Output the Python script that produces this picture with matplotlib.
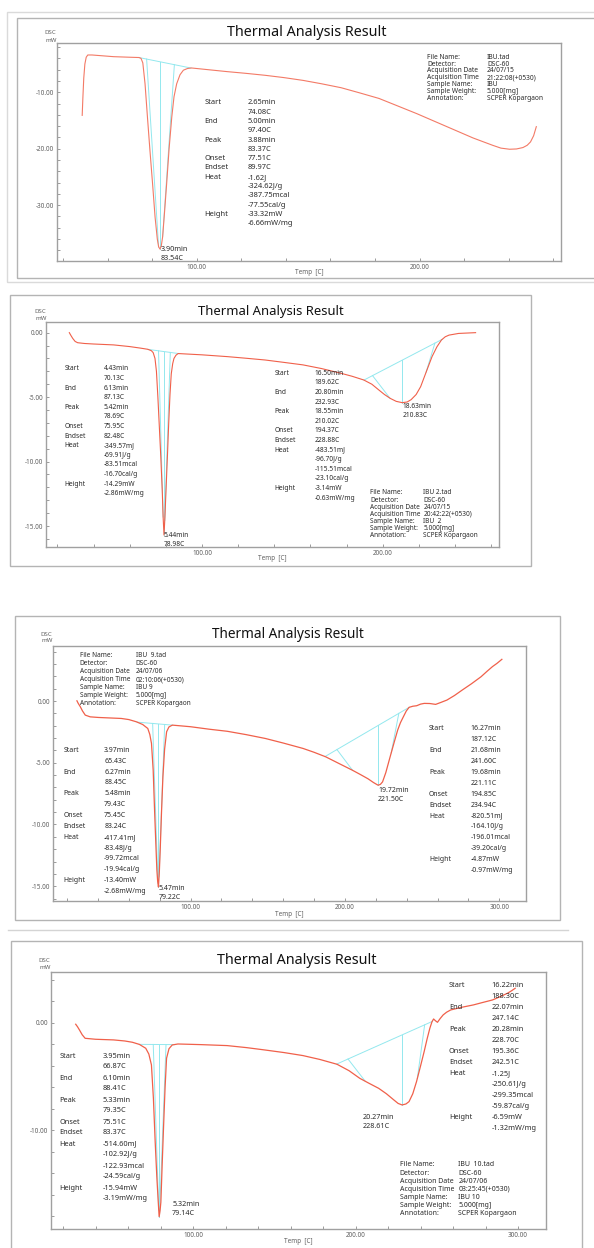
import numpy as np
import matplotlib.pyplot as plt
from matplotlib.patches import Rectangle
from matplotlib.lines import Line2D
from matplotlib.ticker import MultipleLocator, FormatStrFormatter

plt.rcParams['font.family'] = ['Noto Sans', 'DejaVu Sans']

# ---------------- IBU.tad ----------------
temp_1 = [48.6, 48.9, 49.3, 49.8, 50.4, 51.1, 53.0, 62.7, 70.0, 74.1, 75.0, 75.8, 76.8, 77.9, 79.0,
          80.2, 81.3, 82.3, 82.9, 83.54, 84.1, 84.7, 85.6, 86.5, 87.6, 88.8, 89.8, 91.0, 92.5, 94.0,
          95.8, 97.6, 105.0, 113.7, 122.0, 130.7, 139.0, 147.7, 156.0, 164.8, 173.0, 181.8, 190.0,
          198.8, 207.0, 215.8, 224.0, 232.8, 236.5, 240.4, 243.5, 246.4, 248.3, 249.8, 251.2, 252.4]
dsc_1 = [-14.1, -11.0, -7.5, -5.0, -3.8, -3.4, -3.4, -3.7, -3.8, -3.85, -4.0, -4.8, -8.5, -14.5, -20.3,
         -26.3, -32.1, -36.0, -37.4, -37.8, -37.2, -35.6, -31.0, -26.2, -20.0, -14.4, -10.8, -8.5, -6.9, -6.1,
         -5.8, -5.7, -6.0, -6.35, -6.65, -7.0, -7.4, -7.9, -8.5, -9.2, -10.1, -11.1, -12.4,
         -13.8, -15.2, -16.7, -18.1, -19.4, -19.9, -20.1, -20.05, -19.8, -19.4, -18.8, -17.7, -16.1]
info_1 = ['IBU.tad', 'DSC-60', '24/07/15', '21:22:08(+0530)', 'IBU', '5.000[mg]', 'SCPER Kopargaon']
res_1 = [['2.65min', '74.08C'], ['5.00min', '97.40C'], ['3.88min', '83.37C'], ['77.51C'], ['89.97C'],
         ['-1.62J', '-324.62J/g', '-387.75mcal', '-77.55cal/g'], ['-33.32mW', '-6.66mW/mg']]
peak_1 = ['3.90min', '83.54C']
tips_1 = [82.9, 84.7]

# ---------------- IBU 2.tad ----------------
temp_2 = [26.6, 27.4, 28.5, 29.8, 31.2, 35.0, 40.0, 51.1, 60.0, 66.0, 70.0, 72.0, 73.0, 74.0, 74.8,
          75.6, 76.3, 77.2, 78.0, 78.5, 78.98, 79.5, 80.1, 80.9, 81.6, 82.3, 83.0, 83.8, 84.5, 85.6,
          86.8, 92.0, 100.0, 114.1, 124.0, 134.9, 145.0, 155.9, 166.0, 176.9, 183.0, 189.5, 194.0,
          197.9, 201.0, 204.2, 207.5, 210.83, 213.5, 215.7, 218.5, 221.0, 224.2, 227.3, 230.0, 232.5,
          234.6, 236.7, 242.0, 251.4]
dsc_2 = [0.0, -0.2, -0.45, -0.68, -0.78, -0.84, -0.88, -0.95, -1.08, -1.2, -1.29, -1.4, -1.55, -2.0, -3.0,
         -5.0, -7.0, -9.6, -12.2, -14.3, -15.7, -14.3, -12.2, -9.5, -7.0, -4.8, -3.2, -2.4, -2.0, -1.75,
         -1.62, -1.66, -1.72, -1.86, -1.98, -2.12, -2.3, -2.5, -2.78, -3.15, -3.38, -3.67, -4.0,
         -4.45, -4.8, -5.1, -5.33, -5.43, -5.38, -5.2, -4.8, -4.19, -3.0, -1.86, -1.1, -0.57,
         -0.32, -0.19, -0.06, 0.0]
info_2 = ['IBU 2.tad', 'DSC-60', '24/07/15', '20:42:22(+0530)', 'IBU  2', '5.000[mg]', 'SCPER Kopargaon']
res_2a = [['4.43min', '70.13C'], ['6.13min', '87.13C'], ['5.42min', '78.69C'], ['75.95C'], ['82.48C'],
          ['-349.57mJ', '-69.91J/g', '-83.51mcal', '-16.70cal/g'], ['-14.29mW', '-2.86mW/mg']]
res_2b = [['16.50min', '189.62C'], ['20.80min', '232.93C'], ['18.55min', '210.02C'], ['194.37C'], ['228.88C'],
          ['-483.51mJ', '-96.70J/g', '-115.51mcal', '-23.10cal/g'], ['-3.14mW', '-0.63mW/mg']]
peak_2a = ['5.44min', '78.98C']
peak_2b = ['18.63min', '210.83C']
tips_2a = [78.5, 79.4]
tips_2b = [204.0, 224.0]

# ---------------- IBU 9.tad ----------------
temp_3 = [26.4, 27.3, 28.6, 30.0, 31.8, 35.0, 40.4, 55.1, 60.0, 64.9, 69.0, 72.3, 73.6, 74.7, 75.8,
          76.7, 77.5, 78.2, 78.7, 79.22, 79.8, 80.4, 81.2, 82.1, 83.2, 84.5, 86.0, 88.2, 100.0, 112.0,
          123.8, 136.0, 148.4, 160.0, 172.9, 180.0, 187.6, 196.0, 204.8, 210.0, 215.0, 218.5, 221.5,
          223.0, 224.4, 226.5, 229.3, 231.8, 234.2, 236.0, 237.9, 239.8, 241.6, 244.0, 246.5, 249.0,
          251.4, 255.0, 258.8, 262.0, 266.1, 271.0, 276.0, 282.0, 288.2, 292.0, 295.6, 298.5, 301.7]
dsc_3 = [0.02, -0.2, -0.46, -0.8, -1.14, -1.28, -1.33, -1.41, -1.5, -1.68, -1.9, -2.22, -2.7, -3.43, -5.6,
         -8.85, -11.5, -13.7, -14.6, -15.07, -13.8, -11.9, -9.0, -6.14, -3.9, -2.49, -2.1, -1.95, -2.08, -2.28,
         -2.45, -2.72, -3.03, -3.4, -3.84, -4.15, -4.52, -5.05, -5.6, -5.95, -6.3, -6.6, -6.82,
         -6.75, -6.55, -5.8, -4.52, -3.4, -2.35, -1.75, -1.27, -0.8, -0.51, -0.42, -0.38, -0.25,
         -0.19, -0.2, -0.27, -0.12, 0.08, 0.45, 0.89, 1.4, 1.97, 2.4, 2.79, 3.05, 3.38]
info_3 = ['IBU  9.tad', 'DSC-60', '24/07/06', '02:10:06(+0530)', 'IBU 9', '5.000[mg]', 'SCPER Kopargaon']
res_3a = [['3.97min', '65.43C'], ['6.27min', '88.45C'], ['5.48min', '79.43C'], ['75.45C'], ['83.24C'],
          ['-417.41mJ', '-83.48J/g', '-99.72mcal', '-19.94cal/g'], ['-13.40mW', '-2.68mW/mg']]
res_3b = [['16.27min', '187.12C'], ['21.68min', '241.60C'], ['19.68min', '221.11C'], ['194.85C'], ['234.94C'],
          ['-820.51mJ', '-164.10J/g', '-196.01mcal', '-39.20cal/g'], ['-4.87mW', '-0.97mW/mg']]
peak_3a = ['5.47min', '79.22C']
peak_3b = ['19.72min', '221.50C']
tips_3a = [78.9, 79.6]
tips_3b = [205.0, 230.0]

# ---------------- IBU 10.tad ----------------
temp_4 = [27.8, 28.9, 30.1, 31.8, 33.6, 40.0, 51.1, 58.0, 62.7, 67.0, 70.9, 72.8, 74.4, 75.6, 76.7,
          77.7, 78.6, 79.14, 79.7, 80.2, 81.0, 81.9, 82.8, 83.7, 85.2, 87.2, 90.7, 105.0, 121.0, 133.0,
          144.3, 156.0, 167.6, 178.0, 188.6, 196.0, 202.6, 208.0, 214.2, 219.0, 223.6, 226.2, 228.61,
          231.0, 232.9, 235.2, 237.5, 240.0, 242.2, 244.0, 245.7, 247.0, 248.0, 249.2, 250.4, 252.0,
          253.9, 256.0, 258.5, 265.0, 272.5, 278.0, 284.2, 289.0, 293.5, 296.0, 298.2]
dsc_4 = [-0.12, -0.35, -0.65, -1.1, -1.43, -1.52, -1.58, -1.68, -1.8, -2.0, -2.36, -2.9, -3.91, -7.0, -11.06,
         -14.3, -16.7, -18.05, -17.5, -16.7, -13.2, -9.5, -6.0, -3.29, -2.4, -2.05, -1.96, -2.02, -2.11, -2.3,
         -2.52, -2.76, -3.04, -3.4, -3.85, -4.45, -5.16, -5.6, -6.09, -6.6, -7.18, -7.5, -7.64,
         -7.55, -7.33, -6.6, -5.47, -4.0, -2.67, -1.5, -0.5, 0.1, 0.37, 0.2, 0.06, 0.4,
         0.75, 1.0, 1.21, 1.45, 1.68, 1.9, 2.14, 2.45, 2.77, 3.0, 3.23]
info_4 = ['IBU  10.tad', 'DSC-60', '24/07/06', '03:25:45(+0530)', 'IBU 10', '5.000[mg]', 'SCPER Kopargaon']
res_4a = [['3.95min', '66.87C'], ['6.10min', '88.41C'], ['5.33min', '79.35C'], ['75.51C'], ['83.37C'],
          ['-514.60mJ', '-102.92J/g', '-122.93mcal', '-24.59cal/g'], ['-15.94mW', '-3.19mW/mg']]
res_4b = [['16.22min', '188.30C'], ['22.07min', '247.14C'], ['20.28min', '228.70C'], ['195.36C'], ['242.51C'],
          ['-1.25J', '-250.61J/g', '-299.35mcal', '-59.87cal/g'], ['-6.59mW', '-1.32mW/mg']]
peak_4a = ['5.32min', '79.14C']
peak_4b = ['20.27min', '228.61C']
tips_4a = [78.9, 79.4]
tips_4b = [206.0, 238.0]

res_names = ['Start', 'End', 'Peak', 'Onset', 'Endset', 'Heat', 'Height']
info_names = ['File Name:', 'Detector:', 'Acquisition Date', 'Acquisition Time',
              'Sample Name:', 'Sample Weight:', 'Annotation:']

W, H = 594, 1248
fig = plt.figure(figsize=(W / 100, H / 100), dpi=100)

RED = '#f0604a'
CYAN = '#93e8ee'
TXT = '#2a2a2a'


def put(x, y, s, size, color=TXT, **kw):
    fig.text(x / W, 1 - y / H, s, fontsize=size, color=color, va='center', **kw)


def box(x0, y0, x1, y1, color):
    fig.add_artist(Rectangle((x0 / W, 1 - y1 / H), (x1 - x0) / W, (y1 - y0) / H, fill=False,
                             edgecolor=color, lw=1.0, transform=fig.transFigure))


def hline(x0, x1, y, color):
    fig.add_artist(Line2D([x0 / W, x1 / W], [1 - y / H, 1 - y / H], color=color, lw=1.0,
                          transform=fig.transFigure))


def results(xl, xv, y0, step, rows, size):
    i = 0
    for name, vals in zip(res_names, rows):
        put(xl, y0 + i * step, name, size)
        for v in vals:
            put(xv, y0 + i * step, v, size)
            i += 1


def info(xl, xv, y0, step, vals, size):
    for i, (name, v) in enumerate(zip(info_names, vals)):
        put(xl, y0 + i * step, name, size)
        put(xv, y0 + i * step, v, size)


def panel(l, t, r, b, xlim, ylim, yticks, yminor, xticks, title_xy, title_size, dsc_xy, temp_xy):
    ax = fig.add_axes([l / W, 1 - b / H, (r - l) / W, (b - t) / H])
    ax.set_xlim(*xlim)
    ax.set_ylim(*ylim)
    ax.set_xticks(xticks)
    ax.xaxis.set_minor_locator(MultipleLocator(20))
    ax.set_yticks(yticks)
    ax.yaxis.set_minor_locator(MultipleLocator(yminor))
    ax.xaxis.set_major_formatter(FormatStrFormatter('%.2f'))
    ax.yaxis.set_major_formatter(FormatStrFormatter('%.2f'))
    ax.tick_params(which='both', direction='in', colors='#8c8c8c', labelcolor='#606060',
                   labelsize=4.6, length=2, width=0.6, pad=2)
    for sp in ax.spines.values():
        sp.set_color('#a0a0a0')
        sp.set_linewidth(1.0)
    put(title_xy[0], title_xy[1], 'Thermal Analysis Result', title_size, color='#111111', ha='center')
    put(dsc_xy[0], dsc_xy[1], 'DSC', 4.4, color='#606060', ha='center')
    put(dsc_xy[0] + 1, dsc_xy[1] + 7, 'mW', 4.4, color='#606060', ha='center')
    put(temp_xy[0], temp_xy[1], 'Temp  [C]', 4.6, color='#606060', ha='center')
    return ax


def peak(ax, t, d, rows, label, tips, off, size):
    t = np.asarray(t)
    d = np.asarray(d)
    start = float(rows[0][1][:-1])
    end = float(rows[1][1][:-1])
    onset = float(rows[3][0][:-1])
    endset = float(rows[4][0][:-1])
    tp = float(label[1][:-1])
    ys, ye = np.interp([start, end], t, d)

    def base(x):
        return ys + (ye - ys) * (x - start) / (end - start)

    kw = dict(color=CYAN, lw=0.7, zorder=2)
    ax.plot([start, end], [ys, ye], **kw)
    ax.plot([tp, tp], [base(tp), np.interp(tp, t, d)], **kw)
    ax.plot([onset, tips[0]], [base(onset), np.interp(tips[0], t, d)], **kw)
    ax.plot([endset, tips[1]], [base(endset), np.interp(tips[1], t, d)], **kw)
    yp = np.interp(tp, t, d)
    for k, s in enumerate(label):
        ax.annotate(s, (tp, yp), xytext=(off[0], off[1] - 9.2 * k), textcoords='offset pixels',
                    fontsize=size, color=TXT, va='center', ha='left')


# panel 1
box(6.8, 11.7, 600, 282, '#dadada')
box(17, 18.3, 600, 278.3, '#b4b4b4')
ax1 = panel(56.8, 43.3, 560.6, 261, (37.2, 263.3), (-39.9, -1.33), [-10, -20, -30], 2, [100, 200],
            (307, 33), 10.3, (50, 33), (309, 272))
ax1.plot(temp_1, dsc_1, color='#f37a66', lw=0.8, zorder=3)
peak(ax1, temp_1, dsc_1, res_1, peak_1, tips_1, (1, 0), 5.2)
info(427, 487, 57.3, 6.8, info_1, 4.8)
results(204.5, 248, 103, 9.28, res_1, 5.4)

# panel 2
box(10.2, 295, 531.4, 566, '#b4b4b4')
ax2 = panel(46.2, 321.7, 498.9, 547.3, (13.8, 264.3), (-16.65, 0.85), [0, -5, -10, -15], 1, [100, 200],
            (271, 311), 9.4, (40.5, 311.7), (272.7, 558))
ax2.plot(temp_2, dsc_2, color=RED, lw=0.8, zorder=3)
peak(ax2, temp_2, dsc_2, res_2a, peak_2a, tips_2a, (0, 0), 4.8)
peak(ax2, temp_2, dsc_2, res_2b, peak_2b, tips_2b, (0, -4), 4.8)
results(64.4, 103.4, 369, 9.6, res_2a, 4.8)
results(274.6, 314.4, 373.3, 9.6, res_2b, 4.8)
info(370, 423.5, 493, 7.05, info_2, 4.7)

# panel 3
box(15, 615.7, 560, 920, '#b4b4b4')
ax3 = panel(53, 646, 525.8, 901, (10.9, 317.2), (-16.2, 4.46), [0, -5, -10, -15], 1, [100, 200, 300],
            (288, 634), 9.8, (46.4, 634), (289, 914))
ax3.plot(temp_3, dsc_3, color=RED, lw=0.9, zorder=3)
peak(ax3, temp_3, dsc_3, res_3a, peak_3a, tips_3a, (0, -1), 5.0)
peak(ax3, temp_3, dsc_3, res_3b, peak_3b, tips_3b, (0, -5), 5.0)
info(79.5, 135.6, 655.7, 8.0, info_3, 4.7)
results(63.3, 104.2, 750.3, 10.87, res_3a, 5.0)
results(429, 470.5, 728.7, 10.92, res_3b, 5.0)

# panel 4
hline(7.6, 568, 930, '#d4d4d4')
box(11.4, 941, 582, 1260, '#b4b4b4')
ax4 = panel(51, 972.3, 546.2, 1229, (12.6, 317.3), (-19.2, 4.72), [0, -10], 2, [100, 200, 300],
            (297, 960), 10.3, (44, 960.3), (298, 1241.7))
ax4.plot(temp_4, dsc_4, color=RED, lw=0.9, zorder=3)
peak(ax4, temp_4, dsc_4, res_4a, peak_4a, tips_4a, (13, 12), 5.2)
peak(ax4, temp_4, dsc_4, res_4b, peak_4b, tips_4b, (-39, -12.5), 5.2)
results(59.5, 102.3, 1056, 11.0, res_4a, 5.3)
results(449, 491.7, 985.7, 10.98, res_4b, 5.3)
info(399.6, 458.3, 1165, 8.1, info_4, 5.0)

fig.savefig('out.png', dpi=100, facecolor='white')
